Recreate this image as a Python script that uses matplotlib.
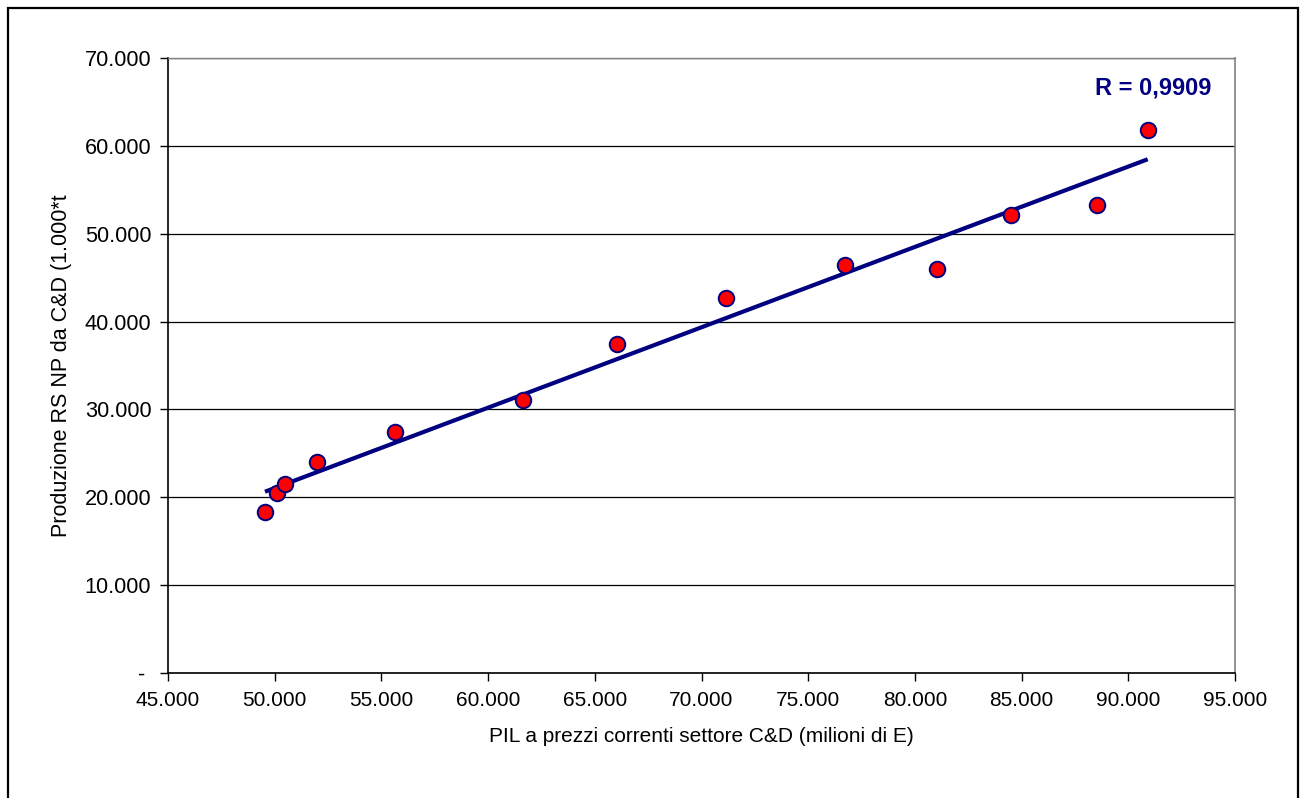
import matplotlib
matplotlib.use("Agg")
import matplotlib.pyplot as plt
import numpy as np
from matplotlib.patches import Rectangle

# Data
pil = [49545, 50094, 50483, 51996, 55651, 61636, 66040, 71148, 76710, 81036, 84504, 88549, 90908]
produzione = [18317, 20512, 21502, 23970, 27383, 31058, 37429, 42662, 46450, 45961, 52184, 53242, 61854]
x_ticks = [45000, 50000, 55000, 60000, 65000, 70000, 75000, 80000, 85000, 90000, 95000]
x_ticklabels = ["45.000", "50.000", "55.000", "60.000", "65.000", "70.000", "75.000", "80.000", "85.000", "90.000", "95.000"]
y_ticks = [0, 10000, 20000, 30000, 40000, 50000, 60000, 70000]
y_ticklabels = ["- ", "10.000", "20.000", "30.000", "40.000", "50.000", "60.000", "70.000"]
r_label = "R = 0,9909"
x_title = "PIL a prezzi correnti settore C&D (milioni di E)"
y_title = "Produzione RS NP da C&D (1.000*t"

plt.rcParams['font.family'] = ['Liberation Sans', 'DejaVu Sans']

W, H = 1302, 798
fig = plt.figure(figsize=(W / 100, H / 100), dpi=100)
ax = fig.add_axes([168 / W, 1 - 673 / H, (1235 - 168) / W, (673 - 58) / H])

x = np.array(pil, dtype=float)
y = np.array(produzione, dtype=float)
slope, intercept = np.polyfit(x, y, 1)
xl = np.array([x.min(), x.max()])
ax.plot(xl, slope * xl + intercept, color='#000080', lw=3.0, solid_capstyle='butt', zorder=3)
ax.scatter(x, y, s=125, facecolor='#ff0000', edgecolor='#000080', linewidths=1.4, zorder=4)

ax.set_xlim(45000, 95000)
ax.set_ylim(0, 70000)
ax.set_xticks(x_ticks)
ax.set_xticklabels(x_ticklabels, fontsize=15)
ax.set_yticks(y_ticks)
ax.set_yticklabels(y_ticklabels, fontsize=15.7)
ax.tick_params(axis='x', direction='out', length=6, width=1, pad=7, color='black')
ax.tick_params(axis='y', direction='out', length=6, width=1, pad=6, color='black')
ax.yaxis.grid(True, color='#000000', lw=0.9)
ax.set_axisbelow(True)
for s in ['left', 'bottom']:
    ax.spines[s].set_color('black')
    ax.spines[s].set_linewidth(1.2)
ax.spines['right'].set_color('#808080')
ax.spines['right'].set_linewidth(1.2)
ax.spines['top'].set_color('#808080')
ax.spines['top'].set_linewidth(1.0)

ax.set_xlabel(x_title, fontsize=15, labelpad=12)
ax.set_ylabel(y_title, fontsize=15.5)
ax.yaxis.set_label_coords(-0.09, 0.5)

ax.text(1153 / W, 1 - 88 / H, r_label, transform=fig.transFigure, ha='center', va='center',
        fontsize=17, fontweight='bold', color='#000080')

fig.patches.append(Rectangle((7.5 / W, -0.05), (1297.5 - 7.5) / W, 1.05 - 7.5 / H,
                             transform=fig.transFigure, fill=False, edgecolor='black', lw=1.6))

fig.savefig("out.png", dpi=100, facecolor='white')
